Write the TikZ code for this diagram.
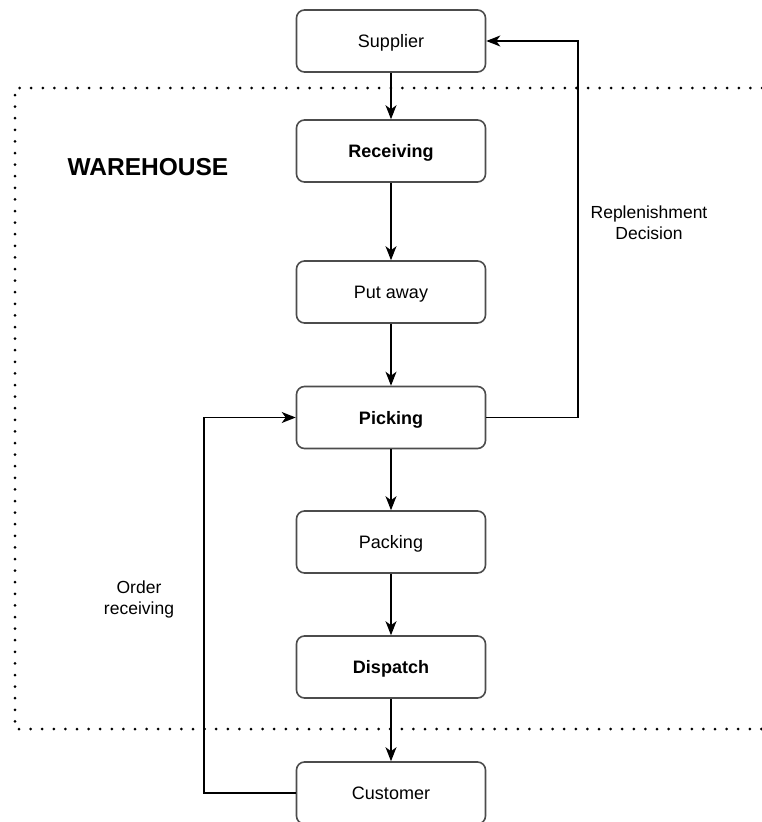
\documentclass[tikz,border=0pt]{standalone}
\usepackage{fontspec}
\setmainfont{Liberation Sans}
\usetikzlibrary{arrows.meta}

\begin{document}
\begin{tikzpicture}[x=1pt,y=-1pt,
  box/.style={draw=black!70,line width=1.6pt,rounded corners=8pt,
    minimum width=189pt,minimum height=62pt,inner sep=0pt,
    text height=13pt,text depth=0pt,
    font=\fontsize{18}{21}\selectfont},
  flow/.style={line width=1.4pt,-{Stealth[length=14pt,width=11pt,inset=4pt]}},
  lbl/.style={align=center,font=\fontsize{17.5}{21}\selectfont}]
  \useasboundingbox (0,0) rectangle (762,822);
  % warehouse border
  \draw[line width=3pt,line cap=round,dash pattern=on 0pt off 11.6pt]
    (762,88) -- (15,88) -- (15,729) -- (762,729);
  \node[font=\fontsize{24.5}{28}\selectfont\bfseries] (WH) at (148,167) {WAREHOUSE};
  % process boxes
  \node[box] (SUP) at (391,41) {Supplier};
  \node[box,font=\fontsize{18}{21}\selectfont\bfseries] (REC) at (391,151) {Receiving};
  \node[box] (PUT) at (391,292) {Put away};
  \node[box,font=\fontsize{18}{21}\selectfont\bfseries] (PIC) at (391,417.5) {Picking};
  \node[box] (PAC) at (391,542) {Packing};
  \node[box,font=\fontsize{18}{21}\selectfont\bfseries] (DIS) at (391,667) {Dispatch};
  \node[box] (CUS) at (391,793) {Customer};
  % main flow
  \draw[flow] (SUP) -- (REC);
  \draw[flow] (REC) -- (PUT);
  \draw[flow] (PUT) -- (PIC);
  \draw[flow] (PIC) -- (PAC);
  \draw[flow] (PAC) -- (DIS);
  \draw[flow] (DIS) -- (CUS);
  % replenishment loop
  \coordinate (RB) at (578,417.5);
  \coordinate (RT) at (578,41);
  \draw[flow] (PIC.east) -- (RB) -- (RT) -- (SUP.east);
  \node[lbl] (RL) at (649,223) {Replenishment\\Decision};
  % order loop
  \coordinate (OB) at (204,793);
  \coordinate (OT) at (204,417.5);
  \draw[flow] (CUS.west) -- (OB) -- (OT) -- (PIC.west);
  \node[lbl] (OL) at (139,599) {Order\\receiving};
\end{tikzpicture}
\end{document}
